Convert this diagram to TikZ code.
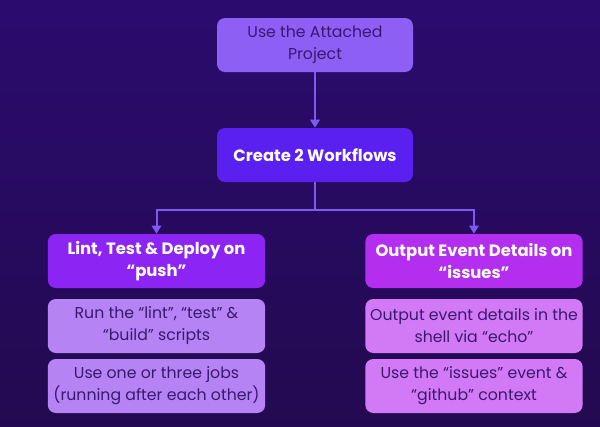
\documentclass[tikz,border=0pt]{standalone}
\usepackage{fontspec}
\setmainfont{Poppins}
\usetikzlibrary{positioning, arrows.meta}

\definecolor{bgtop}{HTML}{2B0B6E}
\definecolor{bgbot}{HTML}{230A50}
\definecolor{topbox}{HTML}{8E5FF5}
\definecolor{createbox}{HTML}{5A20EF}
\definecolor{lintbox}{HTML}{8C25F3}
\definecolor{lintsub}{HTML}{B683F5}
\definecolor{issuebox}{HTML}{B42EF0}
\definecolor{issuesub}{HTML}{D27AF5}
\definecolor{linkline}{HTML}{7E5AF2}
\definecolor{darktext}{HTML}{3A1870}

\begin{document}
\begin{tikzpicture}[x=0.75pt, y=-0.75pt,
    box/.style={rounded corners=6pt, align=center, inner sep=0pt,
        font=\fontsize{11.8}{16.5}\selectfont},
    smallbox/.style={box, minimum width=147pt, minimum height=40.5pt},
    widebox/.style={box, minimum width=163pt, minimum height=40.5pt},
    head/.style={text=white, font=\fontsize{12.3}{16.5}\selectfont\bfseries},
    link/.style={draw=linkline, line width=1.5pt},
    arrow/.style={link, -{Triangle[width=7pt, length=6pt]}}]

    % background
    \shade[top color=bgtop, bottom color=bgbot] (0,0) rectangle (600,426);
    \useasboundingbox (0,0) rectangle (600,426);

    % top of the tree
    \node[smallbox, fill=topbox, text=darktext] (project) at (315,45)
        {Use the Attached\\Project};
    \node[smallbox, fill=createbox, head] (create) at (315,155)
        {Create 2 Workflows};

    % left column
    \node[widebox, fill=lintbox, head] (lint) at (156.5,261)
        {Lint, Test \& Deploy on\\“push”};
    \node[widebox, fill=lintsub, text=darktext] (scripts) at (156.5,326)
        {Run the “lint”, “test” \&\\“build” scripts};
    \node[widebox, fill=lintsub, text=darktext] (jobs) at (156.5,386)
        {Use one or three jobs\\(running after each other)};

    % right column
    \node[widebox, fill=issuebox, head] (output) at (474,261)
        {Output Event Details on\\“issues”};
    \node[widebox, fill=issuesub, text=darktext] (echo) at (474,326)
        {Output event details in the\\shell via “echo”};
    \node[widebox, fill=issuesub, text=darktext] (context) at (474,386)
        {Use the “issues” event \&\\“github” context};

    % connectors
    \coordinate (split) at (315,210);
    \draw[arrow] (project) -- (create);
    \draw[link] (create) -- (split);
    \draw[arrow] (split) -| (lint);
    \draw[arrow] (split) -| (output);

\end{tikzpicture}
\end{document}
